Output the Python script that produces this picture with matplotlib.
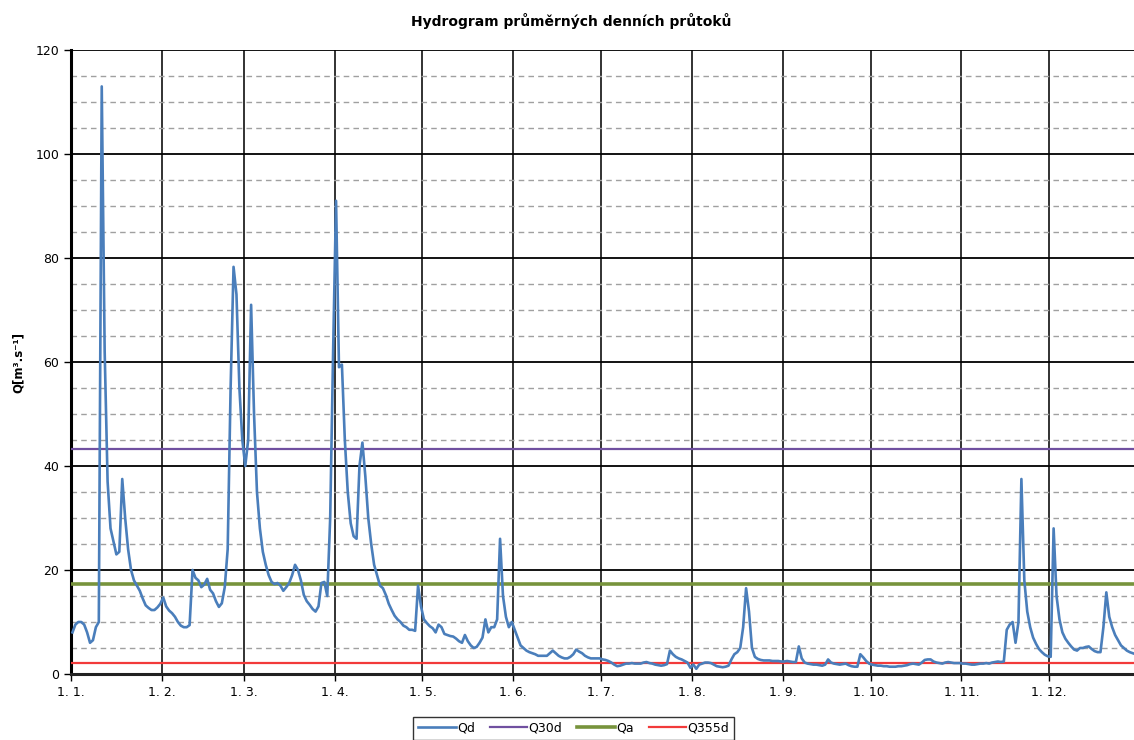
import numpy as np
import matplotlib.pyplot as plt
from matplotlib.ticker import MultipleLocator

# daily mean discharge Qd [m3/s], one list per month
jan = [8, 9.5, 10, 10, 9.5, 8, 6, 6.5, 9, 10, 113, 62, 37, 28, 25.5, 23, 23.5, 37.5,
       30, 24, 20, 18, 17, 16, 14.5, 13.2, 12.7, 12.3, 12.3, 12.8, 13.5]
feb = [14.7, 13, 12.2, 11.7, 11, 10, 9.3, 9, 9, 9.4, 20, 18.5, 18, 16.7, 17.2, 18.3,
       16.2, 15.5, 14, 12.9, 13.6, 16.7, 24, 55, 78.3, 73, 55, 45]
mar = [40, 45, 71, 50, 35, 28, 23.5, 21, 19, 17.7, 17.3, 17.5, 17, 16, 16.7, 17.5, 19,
       21, 20, 18, 15.2, 14, 13.3, 12.5, 12, 13, 17.5, 17.7, 15, 30, 62]
apr = [91, 59, 59.5, 45, 35, 29, 26.5, 26, 40, 44.5, 38, 30, 25, 21, 19, 17, 16.5, 15.2,
       13.5, 12.3, 11.2, 10.5, 10, 9.3, 9, 8.5, 8.5, 8.3, 17, 13]
may = [10.5, 9.8, 9.2, 8.8, 8, 9.5, 9, 7.7, 7.5, 7.3, 7.2, 6.8, 6.3, 6, 7.5, 6.3, 5.5,
       5, 5.2, 6, 7, 10.5, 8, 9, 9, 10.5, 26, 15, 11, 9, 10]
jun = [8.5, 7, 5.5, 5, 4.5, 4.2, 4, 3.8, 3.5, 3.5, 3.5, 3.5, 4, 4.5, 4, 3.5, 3.2, 3, 3,
       3.3, 3.8, 4.7, 4.3, 4, 3.5, 3.2, 3, 3, 3, 3]
jul = [2.8, 2.7, 2.5, 2.2, 1.8, 1.5, 1.6, 1.8, 2, 2, 2.1, 2, 2, 2, 2.2, 2.3, 2.1, 2, 1.8,
       1.7, 1.6, 1.7, 1.9, 4.5, 3.8, 3.3, 3, 2.8, 2.5, 2.2, 1.2]
aug = [1.8, 1.0, 1.8, 2, 2.2, 2.2, 2.1, 1.8, 1.5, 1.4, 1.3, 1.4, 1.6, 2.8, 3.8, 4.2, 5,
       9, 16.5, 12, 5, 3.3, 2.9, 2.7, 2.6, 2.6, 2.6, 2.5, 2.5, 2.5, 2.4]
sep = [2.4, 2.5, 2.4, 2.3, 2.3, 5.3, 3, 2.2, 2, 1.9, 1.8, 1.8, 1.7, 1.6, 1.8, 2.8, 2.2,
       2, 1.9, 1.8, 1.9, 2, 1.7, 1.5, 1.4, 1.4, 3.8, 3.2, 2.5, 2]
oct_ = [1.8, 1.7, 1.6, 1.6, 1.5, 1.5, 1.4, 1.4, 1.4, 1.5, 1.5, 1.6, 1.7, 1.9, 2.0, 1.9,
        1.8, 2.2, 2.7, 2.8, 2.8, 2.4, 2.2, 2.1, 2, 2.2, 2.3, 2.2, 2.1, 2.1, 2.1]
nov = [2, 2, 1.9, 1.8, 1.8, 1.9, 2, 2, 2.1, 2, 2.2, 2.3, 2.4, 2.3, 2.4, 8.5, 9.5, 10, 6,
       10, 37.5, 18, 12, 9, 7, 5.8, 4.8, 4.2, 3.7, 3.4]
dec = [3.3, 28, 15, 10.5, 8, 6.8, 6, 5.3, 4.7, 4.5, 5, 5, 5.2, 5.3, 4.8, 4.4, 4.2, 4.2,
       9, 15.7, 11, 9, 7.5, 6.5, 5.5, 5, 4.5, 4.2, 4, 3.8, 3.8]

months = [jan, feb, mar, apr, may, jun, jul, aug, sep, oct_, nov, dec]
month_labels = ["1. 1.", "1. 2.", "1. 3.", "1. 4.", "1. 5.", "1. 6.",
                "1. 7.", "1. 8.", "1. 9.", "1. 10.", "1. 11.", "1. 12."]

q30d = 43.3
qa = 17.3
q355d = 2.1

qd = np.concatenate(months)
# each daily value sits in the middle of its day
days = np.arange(len(qd)) + 0.5
month_starts = np.cumsum([0] + [len(m) for m in months[:-1]])

fig = plt.figure(figsize=(11.34, 7.4), dpi=100)
ax = fig.add_axes([0.0626, 0.0892, 0.9427, 0.8432])

# grid
ax.yaxis.set_major_locator(MultipleLocator(20))
ax.yaxis.set_minor_locator(MultipleLocator(5))
ax.grid(True, which="major", axis="y", color="black", linewidth=1.3)
ax.grid(True, which="minor", axis="y", color="#a0a0a0", linestyle=(0, (4, 3)), linewidth=1.0)
for m in month_starts:
    ax.axvline(m, color="#222222", linewidth=1.3, zorder=0.5)
ax.set_axisbelow(True)

ax.plot(days, qd, color="#4A7EBB", linewidth=1.9, label="Qd", zorder=4)
ax.axhline(q30d, color="#7050A0", linewidth=1.6, label="Q30d", zorder=3)
ax.axhline(qa, color="#77933C", linewidth=2.6, label="Qa", zorder=3)
ax.axhline(q355d, color="#F23A3A", linewidth=1.6, label="Q355d", zorder=3)

ax.set_xlim(0, 365)
ax.set_ylim(0, 120)
ax.set_xticks(month_starts)
ax.set_xticklabels(month_labels, fontsize=9)
ax.tick_params(axis="y", which="major", labelsize=9, length=5, width=1, direction="out")
ax.tick_params(axis="y", which="minor", length=0)
ax.tick_params(axis="x", length=5, width=1, pad=4)

for side in ["right", "top"]:
    ax.spines[side].set_visible(False)
ax.spines["left"].set_linewidth(2.2)
ax.spines["bottom"].set_linewidth(2.2)
ax.spines["bottom"].set_color("#222222")

fig.text(0.504, 0.972, "Hydrogram průměrných denních průtoků", ha="center", va="center",
         fontsize=10, fontweight="bold")
fig.text(0.016, 0.51, "Q[m³.s⁻¹]", rotation=90, ha="center", va="center",
         fontsize=8.5, fontweight="bold")

leg = fig.legend(loc="upper center", bbox_to_anchor=(0.506, 0.04), ncol=4, fontsize=9,
                 frameon=True, fancybox=False, edgecolor="black", handlelength=3.0,
                 handletextpad=0.1, columnspacing=1.2, borderpad=0.4)
leg.get_frame().set_linewidth(1.0)

fig.savefig("out.png", dpi=100)
